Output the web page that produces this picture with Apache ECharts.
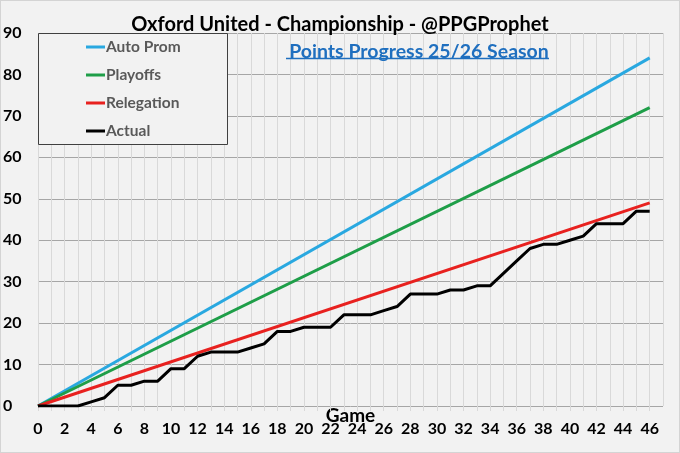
<!DOCTYPE html>
<html>
<head>
<meta charset="utf-8">
<title>Oxford United - Points Progress</title>
<script src="https://cdn.jsdelivr.net/npm/echarts@6/dist/echarts.min.js"></script>
<style>
  html, body { margin: 0; padding: 0; background: #f2f2f2; }
  #chart { width: 680px; height: 453px; box-sizing: border-box; border: 1px solid #d4d4d4; }
</style>
</head>
<body>
<div id="chart"></div>
<script>
// points after each game (game 0 = start of season)
var actual = [0, 0, 0, 0, 1, 2, 5, 5, 6, 6, 9, 9, 12, 13, 13, 13, 14, 15, 18, 18,
              19, 19, 19, 22, 22, 22, 23, 24, 27, 27, 27, 28, 28, 29, 29, 32, 35, 38,
              39, 39, 40, 41, 44, 44, 44, 47, 47];
// target lines: start and end of season
var autoProm = [[0, 0], [46, 84]];
var playoffs = [[0, 0], [46, 72]];
var relegation = [[0, 0], [46, 49]];

var names = ['Auto Prom', 'Playoffs', 'Relegation', 'Actual'];
var colors = ['#29a8e0', '#1e9e48', '#e8211f', '#000000'];
var font = 'Lato, "Open Sans", sans-serif';

var actualPts = [];
for (var i = 0; i < actual.length; i++) {
    actualPts.push([i, actual[i]]);
}

var myChart = echarts.init(document.getElementById('chart'));

function line(name, data, color) {
    return {
        name: name,
        type: 'line',
        data: data,
        showSymbol: false,
        symbol: 'none',
        lineStyle: { color: color, width: 3 },
        itemStyle: { color: color },
        animation: false
    };
}

var option = {
    backgroundColor: '#f2f2f2',
    animation: false,
    title: [{
        text: 'Oxford United - Championship - @PPGProphet',
        left: 'center',
        top: 9,
        textStyle: { fontFamily: font, fontSize: 20, fontWeight: 'bold', color: '#000' }
    }, {
        text: 'Points Progress 25/26 Season',
        left: 413,
        textAlign: 'center',
        top: 36,
        textStyle: { fontFamily: font, fontSize: 19.5, fontWeight: 'bold', color: '#1f6fbf' }
    }],
    legend: {
        orient: 'vertical',
        left: 85,
        top: 37,
        padding: 0,
        itemGap: 10,
        itemWidth: 19,
        itemHeight: 3,
        icon: 'rect',
        z: 5,
        data: names,
        textStyle: { fontFamily: font, fontSize: 15.5, lineHeight: 18, color: '#595959', fontWeight: 'bold', padding: [0, 0, 0, -4] }
    },
    graphic: [{
        type: 'rect',
        z: 3,
        shape: { x: 37.5, y: 32.5, width: 189, height: 111 },
        style: { fill: '#f2f2f2', stroke: '#404040', lineWidth: 1 }
    }, {
        type: 'line',
        z: 3,
        shape: { x1: 285, y1: 57.5, x2: 548, y2: 57.5 },
        style: { stroke: '#1f6fbf', lineWidth: 1.5 }
    }],
    grid: { left: 37, right: 16, top: 32, bottom: 46, outerBoundsMode: 'none', containLabel: false },
    xAxis: {
        type: 'value',
        min: 0,
        max: 47,
        interval: 1,
        name: 'Game',
        nameLocation: 'middle',
        nameGap: 0,
        nameMoveOverlap: false,
        nameTextStyle: { fontFamily: font, fontSize: 19, fontWeight: 'bold', color: '#000' },
        axisLine: { show: false },
        axisTick: { show: true, length: 5, lineStyle: { color: '#d9d9d9' } },
        axisLabel: {
            margin: 15,
            fontFamily: font, fontSize: 16, fontWeight: 'bold', color: '#000',
            showMaxLabel: false,
            formatter: function (v) { return (v % 2 === 0 && v <= 46) ? String(v) : ''; }
        },
        splitLine: { show: true, lineStyle: { color: '#d9d9d9', width: 1 } }
    },
    yAxis: {
        type: 'value',
        min: 0,
        max: 90,
        interval: 10,
        axisLine: { show: false },
        axisTick: { show: false },
        axisLabel: {
            align: 'left',
            margin: 35,
            fontFamily: font, fontSize: 16, fontWeight: 'bold', color: '#000'
        },
        splitLine: { show: true, lineStyle: { color: '#a6a6a6', width: 1 } }
    },
    series: [
        line(names[0], autoProm, colors[0]),
        line(names[1], playoffs, colors[1]),
        line(names[2], relegation, colors[2]),
        line(names[3], actualPts, colors[3])
    ]
};
myChart.setOption(option);
</script>
</body>
</html>
